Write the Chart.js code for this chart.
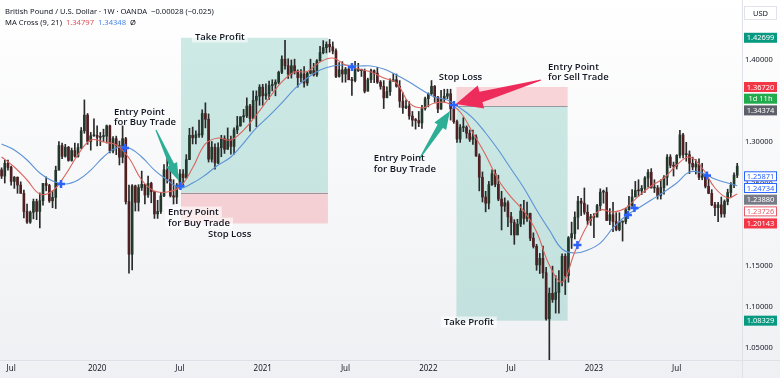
<!DOCTYPE html>
<html lang="en">
<head>
<meta charset="UTF-8">
<title>GBPUSD 1W - MA Cross</title>
<script src="https://cdn.jsdelivr.net/npm/chart.js"></script>
<style>
  html, body { margin: 0; padding: 0; background: #fff; }
</style>
</head>
<body>
<canvas id="fx" width="780" height="378"></canvas>
<script>
// weekly candles, week 0 = 10 Jun 2019
const opens = [
  1.2665,1.2590,1.2745,1.2695,1.2525,1.2575,1.2480,1.2380,1.2160,1.2030,
  1.2150,1.2280,1.2160,1.2290,1.2500,1.2475,1.2290,1.2330,1.2660,1.2960,
  1.2830,1.2940,1.2780,1.2900,1.2830,1.2935,1.3140,1.3330,1.3010,1.3080,
  1.3085,1.3060,1.3070,1.3075,1.3200,1.2895,1.3045,1.2960,1.2820,1.3045,
  1.2280,1.1640,1.2470,1.2270,1.2450,1.2490,1.2360,1.2500,1.2400,1.2130,
  1.2160,1.2350,1.2665,1.2550,1.2350,1.2335,1.2480,1.2615,1.2570,1.2790,
  1.3085,1.3055,1.3090,1.3090,1.3350,1.3280,1.2795,1.2940,1.2750,1.2935,
  1.3045,1.2915,1.3035,1.2950,1.3150,1.3200,1.3310,1.3320,1.3440,1.3290,
  1.3510,1.3560,1.3670,1.3565,1.3590,1.3690,1.3705,1.3730,1.3850,1.4010,
  1.3930,1.3830,1.3930,1.3865,1.3785,1.3830,1.3720,1.3840,1.3870,1.3820,
  1.3990,1.4090,1.4150,1.4190,1.4160,1.4110,1.3800,1.3880,1.3830,1.3890,
  1.3760,1.3750,1.3890,1.3870,1.3870,1.3620,1.3760,1.3870,1.3840,1.3730,
  1.3680,1.3540,1.3615,1.3745,1.3760,1.3680,1.3500,1.3420,1.3440,1.3320,
  1.3270,1.3265,1.3235,1.3410,1.3530,1.3590,1.3680,1.3550,1.3405,1.3530,
  1.3560,1.3590,1.3410,1.3250,1.3040,1.3180,1.3180,1.3110,1.3035,1.3065,
  1.2835,1.2575,1.2335,1.2260,1.2485,1.2620,1.2490,1.2310,1.2225,1.2265,
  1.2095,1.2025,1.1875,1.2005,1.2165,1.2075,1.2135,1.1835,1.1735,1.1510,
  1.1590,1.1415,1.0855,1.1165,1.1090,1.1175,1.1300,1.1615,1.1380,1.1840,
  1.1890,1.2090,1.2285,1.2260,1.2150,1.2050,1.2095,1.2090,1.2230,1.2395,
  1.2395,1.2050,1.2120,1.2035,1.1940,1.2030,1.2035,1.2180,1.2235,1.2335,
  1.2415,1.2410,1.2440,1.2565,1.2635,1.2445,1.2445,1.2350,1.2450,1.2575,
  1.2820,1.2720,1.2710,1.2840,1.3090,1.2850,1.2850,1.2745,1.2700,1.2735,
  1.2575,1.2590,1.2465,1.2380,1.2240,1.2205,1.2240,1.2130,1.2280,1.2390,
  1.2480,1.2600
];
const highs = [
  1.2690,1.2785,1.2785,1.2710,1.2585,1.2580,1.2520,1.2420,1.2250,1.2165,
  1.2310,1.2310,1.2385,1.2500,1.2580,1.2490,1.2410,1.2710,1.3010,1.2990,
  1.2975,1.2950,1.2930,1.2990,1.2985,1.3180,1.3515,1.3350,1.3120,1.3285,
  1.3200,1.3120,1.3160,1.3210,1.3210,1.3070,1.3075,1.3015,1.3200,1.3060,
  1.2480,1.2485,1.2480,1.2485,1.2650,1.2490,1.2590,1.2515,1.2400,1.2295,
  1.2390,1.2730,1.2815,1.2690,1.2545,1.2500,1.2670,1.2670,1.2850,1.3170,
  1.3185,1.3140,1.3270,1.3395,1.3480,1.3345,1.3010,1.2980,1.2995,1.3085,
  1.3080,1.3175,1.3075,1.3175,1.3315,1.3310,1.3400,1.3540,1.3460,1.3625,
  1.3625,1.3700,1.3705,1.3710,1.3745,1.3760,1.3760,1.3865,1.4050,1.4240,
  1.4015,1.4000,1.4010,1.3880,1.3885,1.3920,1.3850,1.4010,1.3960,1.4005,
  1.4165,1.4235,1.4220,1.4250,1.4220,1.4135,1.3970,1.3980,1.3910,1.3910,
  1.3790,1.3985,1.3960,1.3890,1.3890,1.3780,1.3890,1.3880,1.3910,1.3750,
  1.3750,1.3675,1.3770,1.3835,1.3830,1.3750,1.3605,1.3515,1.3495,1.3375,
  1.3290,1.3375,1.3450,1.3550,1.3600,1.3750,1.3690,1.3560,1.3630,1.3645,
  1.3645,1.3645,1.3440,1.3270,1.3215,1.3300,1.3200,1.3150,1.3150,1.3090,
  1.2860,1.2640,1.2405,1.2525,1.2665,1.2665,1.2600,1.2405,1.2325,1.2290,
  1.2150,1.2060,1.2065,1.2245,1.2295,1.2275,1.2140,1.1900,1.1760,1.1650,
  1.1740,1.1480,1.1230,1.1495,1.1380,1.1440,1.1645,1.1645,1.1855,1.2030,
  1.2155,1.2345,1.2320,1.2445,1.2240,1.2125,1.2135,1.2245,1.2435,1.2420,
  1.2450,1.2195,1.2270,1.2145,1.2145,1.2045,1.2200,1.2345,1.2425,1.2525,
  1.2545,1.2475,1.2585,1.2670,1.2680,1.2545,1.2475,1.2545,1.2595,1.2850,
  1.2850,1.2760,1.2850,1.3145,1.3110,1.3000,1.2895,1.2820,1.2790,1.2800,
  1.2745,1.2610,1.2550,1.2425,1.2270,1.2270,1.2335,1.2300,1.2430,1.2510,
  1.2630,1.2745
];
const lows = [
  1.2560,1.2505,1.2660,1.2480,1.2440,1.2380,1.2380,1.2080,1.2015,1.2015,
  1.2070,1.2060,1.1960,1.2235,1.2410,1.2270,1.2205,1.2195,1.2670,1.2800,
  1.2820,1.2770,1.2770,1.2820,1.2820,1.2920,1.3110,1.2975,1.2905,1.3070,
  1.2955,1.2960,1.3010,1.2990,1.2870,1.2870,1.2850,1.2725,1.2750,1.2250,
  1.1410,1.1450,1.2165,1.2165,1.2415,1.2250,1.2330,1.2265,1.2075,1.2075,
  1.2135,1.2340,1.2505,1.2335,1.2250,1.2255,1.2475,1.2480,1.2560,1.2790,
  1.2980,1.2980,1.3060,1.3060,1.3175,1.2760,1.2760,1.2675,1.2740,1.2825,
  1.2865,1.2915,1.2855,1.2855,1.3105,1.3195,1.3245,1.3300,1.3135,1.3290,
  1.3190,1.3450,1.3450,1.3520,1.3520,1.3625,1.3565,1.3710,1.3835,1.3890,
  1.3775,1.3780,1.3830,1.3670,1.3735,1.3670,1.3690,1.3830,1.3805,1.3800,
  1.3985,1.4075,1.4085,1.4095,1.4075,1.3785,1.3790,1.3730,1.3730,1.3760,
  1.3570,1.3735,1.3860,1.3800,1.3600,1.3625,1.3725,1.3725,1.3715,1.3645,
  1.3410,1.3545,1.3570,1.3740,1.3670,1.3425,1.3350,1.3410,1.3280,1.3195,
  1.3160,1.3190,1.3170,1.3390,1.3430,1.3580,1.3485,1.3360,1.3400,1.3490,
  1.3530,1.3270,1.3230,1.3000,1.3000,1.3130,1.3050,1.3010,1.2975,1.2830,
  1.2410,1.2275,1.2155,1.2190,1.2475,1.2460,1.2290,1.1935,1.2160,1.1975,
  1.1875,1.1760,1.1875,1.1975,1.2005,1.2040,1.1805,1.1715,1.1445,1.1405,
  1.1350,1.0840,1.0350,1.1055,1.0925,1.0925,1.1255,1.1150,1.1300,1.1710,
  1.1825,1.1945,1.2110,1.2125,1.2000,1.1990,1.1840,1.2100,1.2170,1.2260,
  1.2050,1.2000,1.1915,1.1925,1.1925,1.1800,1.2010,1.2175,1.2220,1.2350,
  1.2345,1.2365,1.2390,1.2455,1.2445,1.2390,1.2310,1.2310,1.2370,1.2480,
  1.2690,1.2590,1.2675,1.2810,1.2810,1.2770,1.2620,1.2665,1.2615,1.2545,
  1.2545,1.2445,1.2375,1.2230,1.2110,1.2035,1.2090,1.2090,1.2240,1.2330,
  1.2450,1.2570
];
const closes = [
  1.2590,1.2745,1.2695,1.2525,1.2575,1.2480,1.2380,1.2160,1.2030,1.2150,
  1.2280,1.2160,1.2290,1.2500,1.2475,1.2290,1.2330,1.2660,1.2960,1.2830,
  1.2940,1.2780,1.2900,1.2830,1.2935,1.3140,1.3330,1.3010,1.3080,1.3085,
  1.3060,1.3070,1.3075,1.3200,1.2895,1.3045,1.2960,1.2820,1.3045,1.2280,
  1.1640,1.2470,1.2270,1.2450,1.2490,1.2360,1.2500,1.2400,1.2130,1.2160,
  1.2350,1.2665,1.2550,1.2350,1.2335,1.2480,1.2615,1.2570,1.2790,1.3085,
  1.3055,1.3090,1.3090,1.3350,1.3280,1.2795,1.2940,1.2750,1.2935,1.3045,
  1.2915,1.3035,1.2950,1.3150,1.3200,1.3310,1.3320,1.3440,1.3290,1.3510,
  1.3560,1.3670,1.3565,1.3590,1.3690,1.3705,1.3730,1.3850,1.4010,1.3930,
  1.3830,1.3930,1.3865,1.3785,1.3830,1.3720,1.3840,1.3870,1.3820,1.3990,
  1.4090,1.4150,1.4190,1.4160,1.4110,1.3800,1.3880,1.3830,1.3890,1.3760,
  1.3750,1.3890,1.3870,1.3870,1.3620,1.3760,1.3870,1.3840,1.3730,1.3680,
  1.3540,1.3615,1.3745,1.3760,1.3680,1.3500,1.3420,1.3440,1.3320,1.3270,
  1.3265,1.3235,1.3410,1.3530,1.3590,1.3680,1.3550,1.3405,1.3530,1.3560,
  1.3590,1.3410,1.3250,1.3040,1.3180,1.3180,1.3110,1.3035,1.3065,1.2835,
  1.2575,1.2335,1.2260,1.2485,1.2620,1.2490,1.2310,1.2225,1.2265,1.2095,
  1.2025,1.1875,1.2005,1.2165,1.2075,1.2135,1.1835,1.1735,1.1510,1.1590,
  1.1415,1.0855,1.1165,1.1090,1.1175,1.1300,1.1615,1.1380,1.1840,1.1890,
  1.2090,1.2285,1.2260,1.2150,1.2050,1.2095,1.2090,1.2230,1.2395,1.2395,
  1.2050,1.2120,1.2035,1.1940,1.2030,1.2035,1.2180,1.2235,1.2335,1.2415,
  1.2410,1.2440,1.2565,1.2635,1.2445,1.2445,1.2350,1.2450,1.2575,1.2820,
  1.2720,1.2710,1.2840,1.3090,1.2850,1.2850,1.2745,1.2700,1.2735,1.2575,
  1.2590,1.2465,1.2380,1.2240,1.2205,1.2240,1.2130,1.2280,1.2390,1.2480,
  1.2600,1.2710
];

// moving averages every 4 weeks
const maWeeks = [0,4,8,12,16,20,24,28,32,36,40,44,48,52,56,60,64,68,72,76,80,84,88,92,96,100,
  104,108,112,116,120,124,128,132,136,140,144,148,152,156,160,164,168,172,176,180,184,188,192,
  196,200,204,208,212,216,220,224,228,231];
const ma9 = [1.2821,1.2700,1.2542,1.2372,1.2408,1.2603,1.2850,1.3028,1.3004,1.2967,1.2809,1.2542,
  1.2408,1.2396,1.2457,1.2690,1.2980,1.3052,1.3028,1.3149,1.3332,1.3538,1.3733,1.3854,1.3860,
  1.3976,1.4024,1.3939,1.3891,1.3854,1.3781,1.3721,1.3478,1.3417,1.3478,1.3478,1.3368,1.3113,
  1.2846,1.2542,1.2335,1.2165,1.1910,1.1509,1.1303,1.1667,1.1995,1.2177,1.2153,1.2202,1.2347,
  1.2469,1.2566,1.2724,1.2821,1.2688,1.2445,1.2323,1.2373];
const ma21 = [1.2979,1.2906,1.2785,1.2627,1.2530,1.2493,1.2542,1.2663,1.2821,1.2931,1.2931,1.2821,
  1.2663,1.2542,1.2445,1.2505,1.2603,1.2724,1.2821,1.2991,1.3174,1.3320,1.3478,1.3648,1.3781,
  1.3878,1.3927,1.3939,1.3927,1.3927,1.3891,1.3818,1.3733,1.3635,1.3550,1.3514,1.3417,1.3295,
  1.3113,1.2906,1.2676,1.2445,1.2177,1.1934,1.1704,1.1655,1.1691,1.1776,1.1959,1.2105,1.2202,
  1.2299,1.2396,1.2505,1.2639,1.2627,1.2554,1.2505,1.2473];

// MA cross markers
const crossWeeks = [18.65, 38.75, 56.17, 110.02, 142.04, 180.82, 196.67, 198.72, 221.5];
const crossPrices = [1.2493, 1.2931, 1.2469, 1.3915, 1.3453, 1.1752, 1.2117, 1.2202, 1.2597];

const xTickWeeks = [3, 30, 56, 82, 108, 134, 160, 186, 212];
const xTickLabels = ['Jul', '2020', 'Jul', '2021', 'Jul', '2022', 'Jul', '2023', 'Jul'];
const yTicks = [1.05, 1.10, 1.15, 1.20, 1.25, 1.30, 1.35, 1.40];

// position tool drawings
const trades = [
  { from: 56.33, to: 102.48, entry: 1.23880, target: 1.42699, stop: 1.20143 },
  { from: 142.83, to: 177.74, entry: 1.34374, target: 1.08329, stop: 1.36720 }
];
const notes = [
  ['Take Profit', 60.7, 1.4280, true],
  ['Entry Point', 35.3, 1.3368, false],
  ['for Buy Trade', 35.3, 1.3241, false],
  ['Entry Point', 52.25, 1.2153, true],
  ['for Buy Trade', 52.25, 1.2019, true],
  ['Stop Loss', 64.8, 1.1886, false],
  ['Stop Loss', 137.3, 1.3793, false],
  ['Entry Point', 116.9, 1.2800, false],
  ['for Buy Trade', 116.9, 1.2678, false],
  ['Entry Point', 171.6, 1.3915, false],
  ['for Sell Trade', 171.6, 1.3793, false],
  ['Take Profit', 138.9, 1.0817, true]
];
const arrows = [
  { tail: [48.48, 1.3150], tip: [55.7, 1.2530], color: '#2fae97', head: 18, width: 6 },
  { tail: [131.37, 1.2809], tip: [140.79, 1.3380], color: '#2fae97', head: 18, width: 7 },
  { tail: [169.36, 1.3757], tip: [142.67, 1.3465], color: '#ee2c5c', head: 26, width: 12 }
];

// labels on the price scale
const tags = [
  { text: '1.42699', value: 1.42699, bg: '#089981', fg: '#fff' },
  { text: '1.36720', value: 1.36720, bg: '#f23645', fg: '#fff' },
  { text: '1d 11h', value: 1.36720, bg: '#22ab4c', fg: '#fff' },
  { text: '1.34374', value: 1.34374, bg: '#5d606b', fg: '#fff' },
  { text: '1.25871', value: 1.25871, bg: '#fff', fg: '#2962ff', line: '#2962ff' },
  { text: '1.24734', value: 1.24734, bg: '#fff', fg: '#2962ff', line: '#2962ff' },
  { text: '1.23880', value: 1.23880, bg: '#787b86', fg: '#fff' },
  { text: '1.23726', value: 1.23726, bg: '#fff', fg: '#e35d6a', line: '#e35d6a' },
  { text: '1.20143', value: 1.20143, bg: '#f23645', fg: '#fff' },
  { text: '1.08329', value: 1.08329, bg: '#089981', fg: '#fff' }
];

const UP = '#21382b', DOWN = '#4f1f22', WICK = '#2a2a2a';
const TXT = '#131722';
const SANS = '"Noto Sans", "Open Sans", sans-serif';

function noPadding(s) {
  s.paddingLeft = s.paddingRight = s.paddingTop = s.paddingBottom = 0;
}

function drawArrow(ctx, tx, ty, hx, hy, head, hw, color) {
  const len = Math.hypot(hx - tx, hy - ty);
  const ux = (hx - tx) / len, uy = (hy - ty) / len;
  const nx = -uy, ny = ux;
  const bx = hx - ux * head, by = hy - uy * head;
  const neck = hw * 0.45, tail = 0.6;
  ctx.fillStyle = color;
  ctx.beginPath();
  ctx.moveTo(tx + nx * tail, ty + ny * tail);
  ctx.lineTo(bx + nx * neck, by + ny * neck);
  ctx.lineTo(bx + nx * hw, by + ny * hw);
  ctx.lineTo(hx, hy);
  ctx.lineTo(bx - nx * hw, by - ny * hw);
  ctx.lineTo(bx - nx * neck, by - ny * neck);
  ctx.lineTo(tx - nx * tail, ty - ny * tail);
  ctx.closePath();
  ctx.fill();
}

const drawings = {
  id: 'drawings',
  beforeDraw(chart) {
    const { ctx, width, height } = chart;
    const g = ctx.createLinearGradient(0, 0, 0, height);
    g.addColorStop(0, '#ffffff');
    g.addColorStop(1, '#eff0f3');
    ctx.save();
    ctx.fillStyle = g;
    ctx.fillRect(0, 0, width, height);
    ctx.restore();
  },
  beforeDatasetsDraw(chart) {
    const { ctx, chartArea: a, scales: { x, y } } = chart;
    ctx.save();
    ctx.beginPath();
    ctx.rect(a.left, a.top, a.right - a.left, a.bottom - a.top);
    ctx.clip();
    trades.forEach(t => {
      const x0 = x.getPixelForValue(t.from), x1 = x.getPixelForValue(t.to);
      const ye = y.getPixelForValue(t.entry);
      const yt = y.getPixelForValue(t.target), ys = y.getPixelForValue(t.stop);
      ctx.fillStyle = 'rgba(8,153,129,0.2)';
      ctx.fillRect(x0, Math.min(ye, yt), x1 - x0, Math.abs(yt - ye));
      ctx.fillStyle = 'rgba(242,54,69,0.2)';
      ctx.fillRect(x0, Math.min(ye, ys), x1 - x0, Math.abs(ys - ye));
      ctx.strokeStyle = 'rgba(120,123,134,0.7)';
      ctx.lineWidth = 1;
      ctx.beginPath();
      ctx.moveTo(x0, Math.round(ye) + 0.5);
      ctx.lineTo(x1, Math.round(ye) + 0.5);
      ctx.stroke();
    });
    ctx.restore();
  },
  afterDatasetsDraw(chart) {
    const { ctx, scales: { x, y } } = chart;
    ctx.save();
    arrows.forEach(ar => {
      drawArrow(ctx, x.getPixelForValue(ar.tail[0]), y.getPixelForValue(ar.tail[1]),
        x.getPixelForValue(ar.tip[0]), y.getPixelForValue(ar.tip[1]), ar.head, ar.width, ar.color);
    });
    ctx.font = '600 9.5px "Open Sans", sans-serif';
    ctx.textBaseline = 'middle';
    ctx.textAlign = 'left';
    notes.forEach(([text, w, p, bg]) => {
      const px = x.getPixelForValue(w), py = y.getPixelForValue(p);
      if (bg) {
        ctx.fillStyle = 'rgba(255,255,255,0.6)';
        ctx.fillRect(px - 3, py - 5.5, ctx.measureText(text).width + 6, 11);
      }
      ctx.fillStyle = TXT;
      ctx.fillText(text, px, py);
    });
    ctx.restore();
  },
  afterDraw(chart) {
    const { ctx, chartArea: a, width, height, scales: { y } } = chart;
    ctx.save();
    ctx.strokeStyle = '#dfe1e6';
    ctx.lineWidth = 1;
    ctx.beginPath();
    ctx.moveTo(0, Math.round(a.bottom) + 0.5);
    ctx.lineTo(width, Math.round(a.bottom) + 0.5);
    ctx.moveTo(Math.round(a.right) + 0.5, 0);
    ctx.lineTo(Math.round(a.right) + 0.5, height);
    ctx.stroke();

    // header
    ctx.font = '7.6px ' + SANS;
    ctx.textBaseline = 'middle';
    ctx.textAlign = 'left';
    ctx.fillStyle = TXT;
    ctx.fillText('British Pound / U.S. Dollar \u00b7 1W \u00b7 OANDA  \u22120.00028 (\u22120.025)', 5, 11.5);
    let hx = 5;
    [['MA Cross (9, 21)  ', TXT], ['1.34797  ', '#e0525a'], ['1.34348  ', '#4a86e8'], ['\u00d8', TXT]]
      .forEach(([s, c]) => {
        ctx.fillStyle = c;
        ctx.fillText(s, hx, 22.5);
        hx += ctx.measureText(s).width;
      });

    // price scale labels
    const left = a.right + 2, w = 33;
    const mid = left + w / 2;
    ctx.fillStyle = '#fff';
    ctx.fillRect(left, 6, w, 14);
    ctx.strokeStyle = '#e0e3eb';
    ctx.strokeRect(left + 0.5, 6.5, w - 1, 13);
    ctx.font = '7.5px ' + SANS;
    ctx.textAlign = 'center';
    ctx.fillStyle = TXT;
    ctx.fillText('USD', mid, 13.5);
    let prev = -Infinity;
    tags.forEach(t => {
      let cy = y.getPixelForValue(t.value);
      if (cy < prev + 11.7) cy = prev + 11.7;
      prev = cy;
      ctx.fillStyle = t.bg;
      ctx.fillRect(left, cy - 5, w, 10);
      if (t.line) {
        ctx.strokeStyle = t.line;
        ctx.strokeRect(left + 0.5, cy - 4.5, w - 1, 9);
      }
      ctx.fillStyle = t.fg;
      ctx.fillText(t.text, mid, cy + 0.5);
    });
    ctx.restore();
  }
};

const bodyData = closes.map((c, i) => ({ x: i, y: [opens[i], c] }));
const wickData = closes.map((c, i) => ({ x: i, y: [lows[i], highs[i]] }));

new Chart(document.getElementById('fx'), {
  type: 'bar',
  data: {
    datasets: [
      {
        type: 'line',
        data: crossWeeks.map((w, i) => ({ x: w, y: crossPrices[i] })),
        showLine: false,
        pointStyle: 'cross',
        pointRadius: 4,
        pointBorderWidth: 2.5,
        pointBorderColor: '#2962ff',
        order: 0
      },
      {
        type: 'line',
        data: maWeeks.map((w, i) => ({ x: w, y: ma9[i] })),
        borderColor: '#d9645c',
        borderWidth: 1.1,
        pointRadius: 0,
        tension: 0.4,
        order: 1
      },
      {
        type: 'line',
        data: maWeeks.map((w, i) => ({ x: w, y: ma21[i] })),
        borderColor: '#5b93d6',
        borderWidth: 1.1,
        pointRadius: 0,
        tension: 0.4,
        order: 2
      },
      {
        data: bodyData,
        backgroundColor: closes.map((c, i) => c >= opens[i] ? UP : DOWN),
        barThickness: 2,
        minBarLength: 1,
        grouped: false,
        order: 3
      },
      {
        data: wickData,
        backgroundColor: WICK,
        barThickness: 1,
        grouped: false,
        order: 4
      }
    ]
  },
  options: {
    responsive: false,
    animation: false,
    events: [],
    layout: { padding: 0, autoPadding: false },
    plugins: { legend: { display: false }, tooltip: { enabled: false } },
    scales: {
      x: {
        type: 'linear',
        min: -0.5,
        max: 232.5,
        offset: false,
        grid: { display: false, drawTicks: false },
        border: { display: false },
        afterBuildTicks: s => { s.ticks = xTickWeeks.map(v => ({ value: v })); },
        afterFit: s => { s.height = 18; noPadding(s); },
        ticks: {
          autoSkip: false,
          maxRotation: 0,
          padding: 4,
          color: TXT,
          font: { size: 8, family: SANS },
          callback: (v, i) => xTickLabels[i]
        }
      },
      y: {
        position: 'right',
        min: 1.0355,
        max: 1.4729,
        grid: { display: false, drawTicks: false },
        border: { display: false },
        afterBuildTicks: s => { s.ticks = yTicks.map(v => ({ value: v })); },
        afterFit: s => { s.width = 38; noPadding(s); },
        ticks: {
          crossAlign: 'center',
          color: TXT,
          font: { size: 7.5, family: SANS },
          callback: v => v.toFixed(5)
        }
      }
    }
  },
  plugins: [drawings]
});
</script>
</body>
</html>
